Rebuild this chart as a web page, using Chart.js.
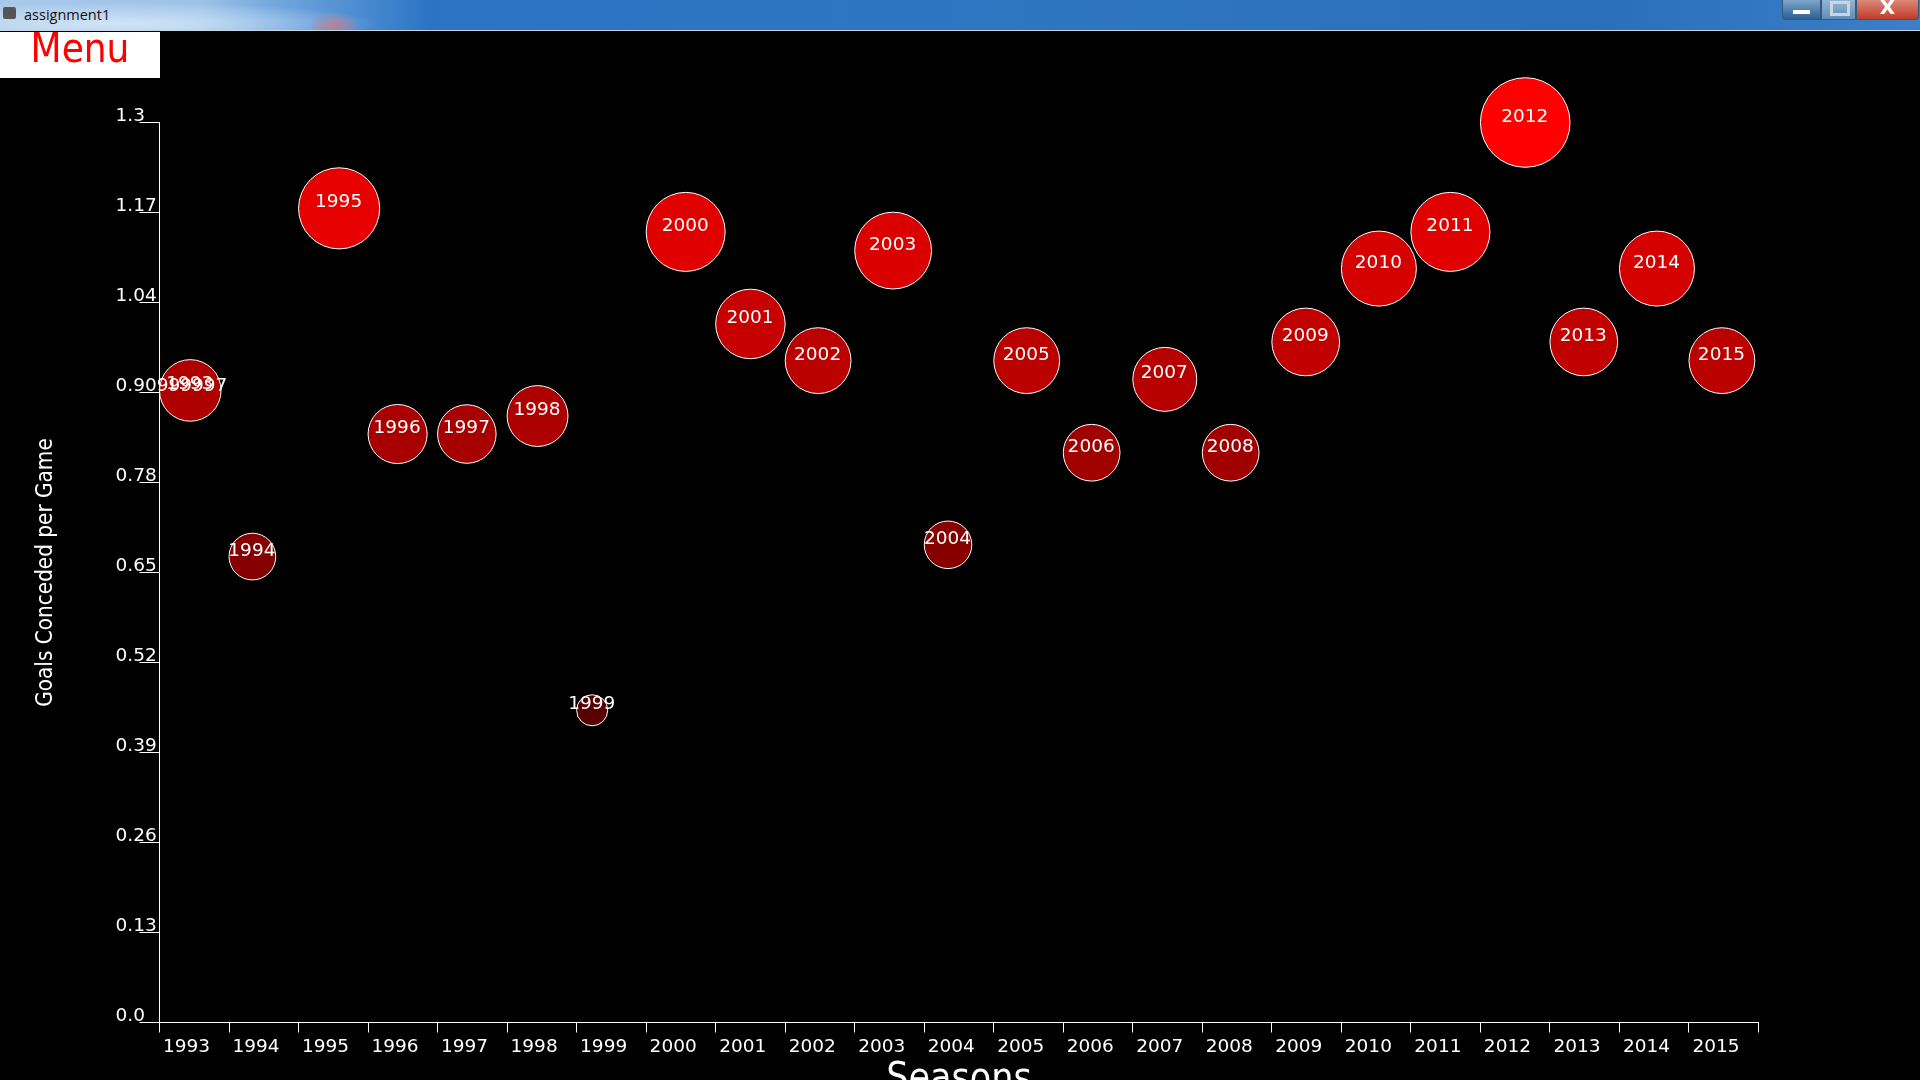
<!DOCTYPE html>
<html>
<head>
<meta charset="utf-8">
<title>assignment1</title>
<script src="https://cdn.jsdelivr.net/npm/chart.js@4"></script>
<style>
html, body { margin: 0; background: #000; overflow: hidden; width: 1920px; height: 1080px; }
#chartWrap { position: absolute; left: 0; top: 0; width: 1920px; height: 1120px; }
#titleBar { position: absolute; left: 0; top: 0; width: 1920px; height: 31px; overflow: hidden;
    background:
        radial-gradient(ellipse 26px 14px at 334px 26px, rgba(205,120,130,0.8), rgba(205,120,130,0) 100%),
        radial-gradient(ellipse 260px 22px at 120px 24px, rgba(215,232,248,0.9), rgba(215,232,248,0) 100%),
        linear-gradient(90deg, #a9c9e8 0, #9cc2e8 200px, #6ba3dc 290px, #2b74c4 430px, #2f76c1 1000px, #2a6fb9 1600px, #3a7fc8 1920px);
    border-bottom: 1px solid #c5d6e6; box-sizing: border-box; }
#titleIcon { position: absolute; left: 3px; top: 7px; width: 13px; height: 12px; background: #555; border-radius: 2px; }
#titleText { position: absolute; left: 24px; top: 5px; font: 14.5px "Open Sans", sans-serif; color: #111; }
.winBtn { position: absolute; top: 0; height: 20px; box-sizing: border-box; border: 1px solid #33597f; border-top: 0; text-align: center; color: #fff; }
#btnMin { left: 1782px; width: 39px; background: linear-gradient(#7ea5cb, #2f5f92); border-radius: 0 0 0 4px; }
#btnMin i { position: absolute; left: 10px; top: 10px; width: 17px; height: 4px; background: #fff; }
#btnMax { left: 1821px; width: 35px; background: linear-gradient(#94b5d4, #5f8db8); }
#btnMax i { position: absolute; left: 8px; top: 1px; width: 14px; height: 9px; border: 3px solid #c9d6e2; }
#btnClose { left: 1856px; width: 63px; background: linear-gradient(#d9897a, #c23b2a); border-radius: 0 0 4px 0; font: bold 20px/15px "DejaVu Sans", sans-serif; }
#menu { position: absolute; left: 0; top: 32px; width: 160px; height: 46px; background: #fff; color: #f00;
    font: 40px/32px "DejaVu Sans Condensed", "DejaVu Sans", sans-serif; text-align: center; }
</style>
</head>
<body>
<div id="chartWrap"><canvas id="myChart"></canvas></div>
<div id="titleBar">
    <div id="titleIcon"></div>
    <div id="titleText">assignment1</div>
    <div class="winBtn" id="btnMin"><i></i></div>
    <div class="winBtn" id="btnMax"><i></i></div>
    <div class="winBtn" id="btnClose">X</div>
</div>
<div id="menu">Menu</div>
<script>
const seasons = [1993, 1994, 1995, 1996, 1997, 1998, 1999, 2000, 2001, 2002, 2003, 2004,
    2005, 2006, 2007, 2008, 2009, 2010, 2011, 2012, 2013, 2014, 2015];
// height of each bubble on the y axis
const goalsPerGame = [0.913, 0.673, 1.176, 0.85, 0.85, 0.876, 0.451, 1.142, 1.009, 0.956, 1.115, 0.69,
    0.956, 0.823, 0.929, 0.823, 0.983, 1.089, 1.142, 1.3, 0.983, 1.089, 0.956];
// bubble diameter, in season widths
const bubbleSize = [0.886, 0.672, 1.167, 0.85, 0.842, 0.876, 0.447, 1.137, 1.0, 0.947, 1.105, 0.684,
    0.947, 0.816, 0.92, 0.816, 0.974, 1.079, 1.137, 1.289, 0.974, 1.079, 0.947];
const yTickLabels = ['0.0', '0.13', '0.26', '0.39', '0.52', '0.65', '0.78', '0.90999997', '1.04', '1.17', '1.3'];

const seasonWidth = 69.5;
const fontName = '"DejaVu Sans", sans-serif';
const titleFont = '"DejaVu Sans Condensed", "DejaVu Sans", sans-serif';

const bubbleLabels = {
    id: 'bubbleLabels',
    afterDatasetsDraw(chart) {
        const ctx = chart.ctx;
        ctx.save();
        ctx.font = '18.5px ' + fontName;
        ctx.fillStyle = '#fff';
        ctx.textAlign = 'center';
        ctx.textBaseline = 'alphabetic';
        chart.getDatasetMeta(0).data.forEach(function(point, i) {
            ctx.fillText(seasons[i], point.x - 0.5, point.y - 1);
        });
        ctx.restore();
    }
};

new Chart(document.getElementById('myChart'), {
    type: 'bubble',
    data: {
        datasets: [{
            data: seasons.map(function(s, i) {
                return { x: s + bubbleSize[i] / 2, y: goalsPerGame[i], r: bubbleSize[i] * seasonWidth / 2 };
            }),
            backgroundColor: function(c) {
                return 'rgb(' + Math.round(bubbleSize[c.dataIndex] / 1.289 * 255) + ',0,0)';
            },
            borderColor: '#fff',
            borderWidth: 1,
            clip: false
        }]
    },
    options: {
        responsive: true,
        maintainAspectRatio: false,
        animation: false,
        events: [],
        layout: { padding: { top: 122.5, right: 161.5, left: 0, bottom: 0 } },
        plugins: { legend: { display: false }, tooltip: { enabled: false } },
        scales: {
            x: {
                type: 'linear',
                min: 1993,
                max: 2016,
                afterFit: function(scale) { scale.height = 97.5; },
                grid: { drawOnChartArea: false, color: '#fff', tickLength: 10 },
                border: { color: '#fff', width: 1 },
                ticks: {
                    stepSize: 1,
                    autoSkip: false,
                    maxRotation: 0,
                    color: '#fff',
                    font: { family: fontName, size: 18.5 },
                    padding: 4,
                    labelOffset: 27,
                    callback: function(v) { return v < 2016 ? String(v) : ''; }
                },
                title: {
                    display: true,
                    text: 'Seasons',
                    color: '#fff',
                    font: { family: titleFont, size: 39 },
                    padding: { top: 0, bottom: 17 }
                }
            },
            y: {
                min: 0,
                max: 1.3,
                afterFit: function(scale) { scale.width = 159.5; },
                grid: { drawOnChartArea: false, color: '#fff', tickLength: 20 },
                border: { color: '#fff', width: 1 },
                ticks: {
                    stepSize: 0.13,
                    autoSkip: false,
                    mirror: true,
                    padding: -44,
                    labelOffset: -6,
                    z: 1,
                    color: '#fff',
                    font: { family: fontName, size: 18.5 },
                    callback: function(v, i) { return yTickLabels[i]; }
                },
                title: {
                    display: true,
                    text: 'Goals Conceded per Game',
                    color: '#fff',
                    font: { family: titleFont, size: 22.3 },
                    padding: { top: 32.5, bottom: 0 }
                }
            }
        }
    },
    plugins: [bubbleLabels]
});
</script>
</body>
</html>
